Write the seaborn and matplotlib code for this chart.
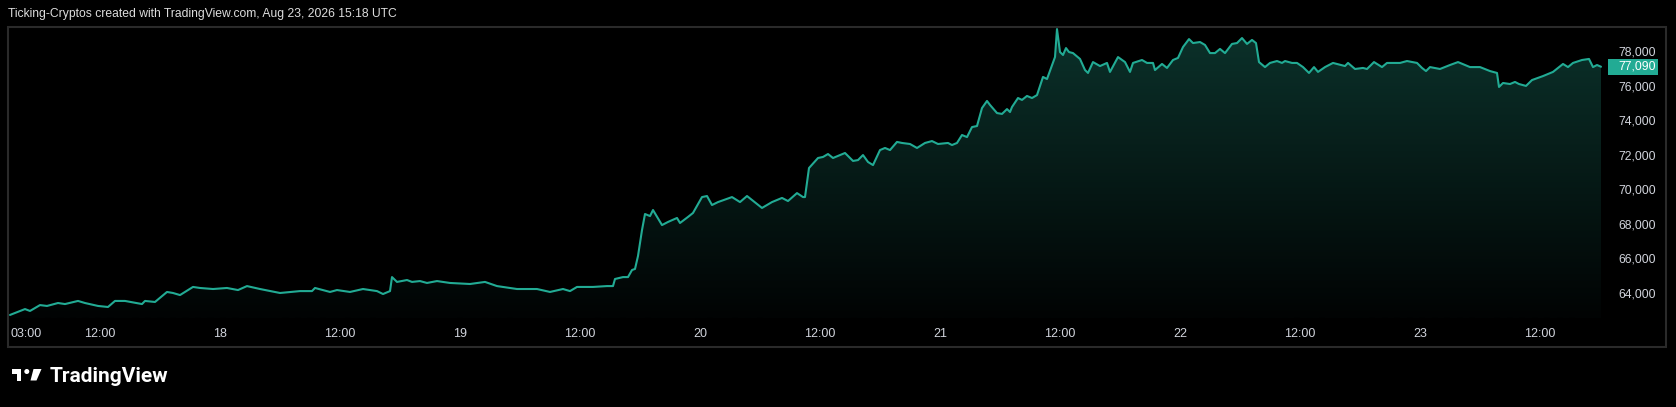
"""
BTC-style area chart, TradingView dark snapshot look
"""
import numpy as np
import pandas as pd
import matplotlib
matplotlib.use("Agg")
import matplotlib.pyplot as plt
import matplotlib.transforms as mtransforms
from matplotlib.patches import Rectangle, Polygon, Circle
import seaborn as sns

# hours counted from Aug 17 00:00
hours = [
    3.0, 4.5, 5.0, 6.0, 6.7, 7.8, 8.5, 9.8, 10.5, 11.8,
    12.8, 13.5, 14.5, 16.2, 16.5, 17.5, 18.7, 19.3, 20.0, 21.3,
    22.0, 23.3, 24.7, 25.8, 26.7, 28.0, 30.0, 32.0, 33.2, 33.5,
    35.0, 35.7, 37.0, 38.3, 39.7, 40.3, 41.0, 41.2, 41.7, 42.7,
    43.2, 44.0, 44.7, 45.7, 47.0, 49.0, 50.5, 51.7, 53.7, 55.7,
    57.0, 58.3, 59.0, 59.7, 61.3, 62.7, 63.3, 63.5, 64.3, 64.8,
    65.2, 65.5, 65.8, 66.2, 66.5, 67.0, 67.3, 68.2, 68.8, 69.7,
    70.0, 70.8, 71.3, 72.2, 72.7, 73.2, 73.8, 75.2, 76.0, 76.7,
    77.2, 78.2, 79.2, 80.2, 80.8, 81.7, 82.3, 82.5, 82.9, 83.8,
    84.3, 84.8, 85.3, 86.5, 87.3, 87.8, 88.3, 88.8, 89.3, 90.0,
    90.5, 91.0, 91.7, 92.2, 93.0, 93.7, 94.5, 95.2, 95.8, 96.8,
    97.2, 97.7, 98.2, 98.7, 99.2, 99.7, 100.2, 100.7, 101.0, 101.7,
    102.2, 102.7, 103.0, 103.2, 103.8, 104.2, 104.7, 105.2, 105.7, 106.3,
    106.7, 107.5, 107.7, 108.0, 108.3, 108.6, 108.9, 109.3, 110.0, 110.5,
    110.8, 111.3, 112.0, 112.7, 113.0, 113.8, 114.5, 115.0, 115.3, 116.2,
    116.7, 117.3, 117.5, 118.2, 118.7, 119.3, 119.8, 120.3, 120.9, 121.3,
    122.0, 122.5, 123.0, 123.5, 124.0, 124.5, 125.2, 125.7, 126.2, 126.7,
    127.2, 127.6, 127.9, 128.5, 129.0, 129.7, 130.2, 130.5, 131.2, 131.7,
    132.3, 132.9, 133.4, 133.8, 134.5, 135.3, 136.5, 136.8, 137.5, 138.3,
    138.7, 139.4, 140.2, 140.7, 142.0, 142.7, 143.7, 144.2, 144.6, 145.0,
    146.0, 147.0, 147.8, 149.0, 150.0, 151.0, 151.7, 151.9, 152.3, 153.0,
    153.5, 153.9, 154.6, 155.2, 156.3, 157.3, 158.3, 158.8, 159.3, 160.2,
    160.9, 161.3, 161.7, 162.1,
]

prices = [
    62730, 63070, 62960, 63300, 63250, 63420, 63360, 63540, 63420, 63250,
    63190, 63540, 63540, 63360, 63540, 63480, 64060, 64000, 63880, 64350,
    64290, 64230, 64290, 64170, 64400, 64230, 64000, 64110, 64110, 64290,
    64060, 64170, 64060, 64230, 64110, 63940, 64110, 64920, 64640, 64750,
    64640, 64690, 64580, 64690, 64580, 64520, 64640, 64400, 64230, 64230,
    64060, 64230, 64110, 64350, 64350, 64400, 64400, 64810, 64920, 64920,
    65330, 65390, 66140, 67640, 68570, 68450, 68800, 67930, 68110, 68340,
    68050, 68400, 68630, 69550, 69610, 69090, 69260, 69550, 69260, 69610,
    69380, 68920, 69260, 69500, 69320, 69780, 69550, 69550, 71230, 71810,
    71870, 72040, 71810, 72100, 71640, 71690, 71980, 71580, 71400, 72270,
    72390, 72270, 72740, 72680, 72620, 72390, 72680, 72790, 72620, 72680,
    72560, 72680, 73140, 73020, 73600, 73660, 74700, 75110, 74880, 74410,
    74360, 74640, 74470, 74760, 75280, 75170, 75400, 75280, 75450, 76500,
    76380, 77650, 79270, 77940, 77770, 78170, 77940, 77880, 77540, 76900,
    76730, 77360, 77130, 77310, 76790, 77650, 77360, 76790, 77310, 77480,
    77310, 77310, 76900, 77250, 77020, 77480, 77600, 78230, 78690, 78460,
    78520, 78350, 77880, 77880, 78120, 77880, 78410, 78460, 78750, 78410,
    78640, 78460, 77360, 77070, 77310, 77420, 77310, 77420, 77310, 77310,
    77070, 76730, 77070, 76790, 77070, 77310, 77130, 77310, 76960, 77020,
    76960, 77360, 77070, 77310, 77310, 77420, 77310, 77020, 76840, 77070,
    76960, 77190, 77360, 77070, 77070, 76840, 76730, 75920, 76150, 76090,
    76210, 76090, 75980, 76320, 76550, 76790, 77250, 77070, 77310, 77480,
    77540, 77070, 77190, 77090,
]

time_ticks = [3, 12, 24, 36, 48, 60, 72, 84, 96, 108, 120, 132, 144, 156]
time_labels = ["03:00", "12:00", "18", "12:00", "19", "12:00", "20",
               "12:00", "21", "12:00", "22", "12:00", "23", "12:00"]
price_ticks = [64000, 66000, 68000, 70000, 72000, 74000, 76000, 78000]
last_price = 77090

TITLE = "Ticking-Cryptos created with TradingView.com, Aug 23, 2026 15:18 UTC"
LINE = "#22ab94"
TEXT = "#d1d4dc"
BG = "#000000"

W, H, DPI = 1676, 407, 100

sns.set_theme(style="dark")
plt.rcParams["font.family"] = ["Liberation Sans", "DejaVu Sans"]

df = pd.DataFrame({"hour": hours, "price": prices})

fig = plt.figure(figsize=(W / DPI, H / DPI), dpi=DPI, facecolor=BG)

# pane: x 8..1606 px, y 27..318 px (top-down)
ax = fig.add_axes([8 / W, (H - 318) / H, (1606 - 8) / W, (318 - 27) / H])
ax.set_facecolor(BG)
for s in ax.spines.values():
    s.set_visible(False)
ax.grid(False)

xlim = (2.8, 162.6)
ylim = (62553, 79389)

# gradient fill under the line
grad = np.linspace(0.0, 1.0, 256).reshape(-1, 1, 1)
top_rgb = np.array([11, 50, 43]) / 255
bot_rgb = np.array([1, 3, 3]) / 255
img = bot_rgb + (top_rgb - bot_rgb) * grad
im = ax.imshow(img, extent=[xlim[0], xlim[1], ylim[0], ylim[1]],
               origin="lower", aspect="auto", zorder=1, interpolation="bilinear")
verts = [(hours[0], ylim[0])] + list(zip(hours, prices)) + [(hours[-1], ylim[0])]
clip = Polygon(verts, closed=True, facecolor="none", edgecolor="none")
ax.add_patch(clip)
im.set_clip_path(clip)

sns.lineplot(data=df, x="hour", y="price", ax=ax, color=LINE,
             linewidth=1.5, zorder=3)

ax.set_xlim(*xlim)
ax.set_ylim(*ylim)
ax.set_xlabel("")
ax.set_ylabel("")

ax.set_xticks(time_ticks)
ax.set_xticklabels(time_labels)
ax.tick_params(axis="x", length=0, pad=7, labelsize=9, colors=TEXT)
ax.get_xticklabels()[0].set_horizontalalignment("left")

ax.yaxis.tick_right()
ax.set_yticks(price_ticks)
ax.set_yticklabels([f"{v:,}" for v in price_ticks])
ax.tick_params(axis="y", length=0, pad=9, labelsize=8.8, colors=TEXT)

# last price badge on the price scale
blend = mtransforms.blended_transform_factory(ax.transAxes, ax.transData)
x_box0 = (1608 - 8) / (1606 - 8)
x_box1 = (1658 - 8) / (1606 - 8)
badge_h = 16 * (ylim[1] - ylim[0]) / 291
ax.add_patch(Rectangle((x_box0, last_price - badge_h / 2), x_box1 - x_box0, badge_h,
                       transform=blend, facecolor=LINE, edgecolor="none",
                       clip_on=False, zorder=5))
ax.text((1618 - 8) / (1606 - 8), last_price, f"{last_price:,}", transform=blend,
        ha="left", va="center", fontsize=8.8, color="white", zorder=6, clip_on=False)

# overlay in pixel coordinates for frame, title and logo
ov = fig.add_axes([0, 0, 1, 1], facecolor="none")
ov.set_xlim(0, W)
ov.set_ylim(H, 0)
ov.axis("off")

ov.add_patch(Rectangle((8, 27), 1666 - 8, 347 - 27, facecolor="none",
                       edgecolor="#2a2a2a", linewidth=1.5))
ov.text(8, 14, TITLE, ha="left", va="center", fontsize=8.7, color="#dcdcdc")

# TradingView logo mark
ov.add_patch(Rectangle((12, 369), 9, 5, facecolor="white", edgecolor="none"))
ov.add_patch(Rectangle((16.5, 369), 4.5, 11.5, facecolor="white", edgecolor="none"))
ov.add_patch(Circle((26.8, 371.5), 2.5, facecolor="white", edgecolor="none"))
ov.add_patch(Polygon([(33.5, 369), (41.5, 369), (36.5, 380.5), (30.5, 380.5)],
                     closed=True, facecolor="white", edgecolor="none"))
ov.text(50, 382, "TradingView", ha="left", va="baseline", fontsize=15,
        color="white", fontweight="semibold", family=["Roboto", "DejaVu Sans"])

fig.savefig("out.png", dpi=DPI, facecolor=BG)
plt.close(fig)
